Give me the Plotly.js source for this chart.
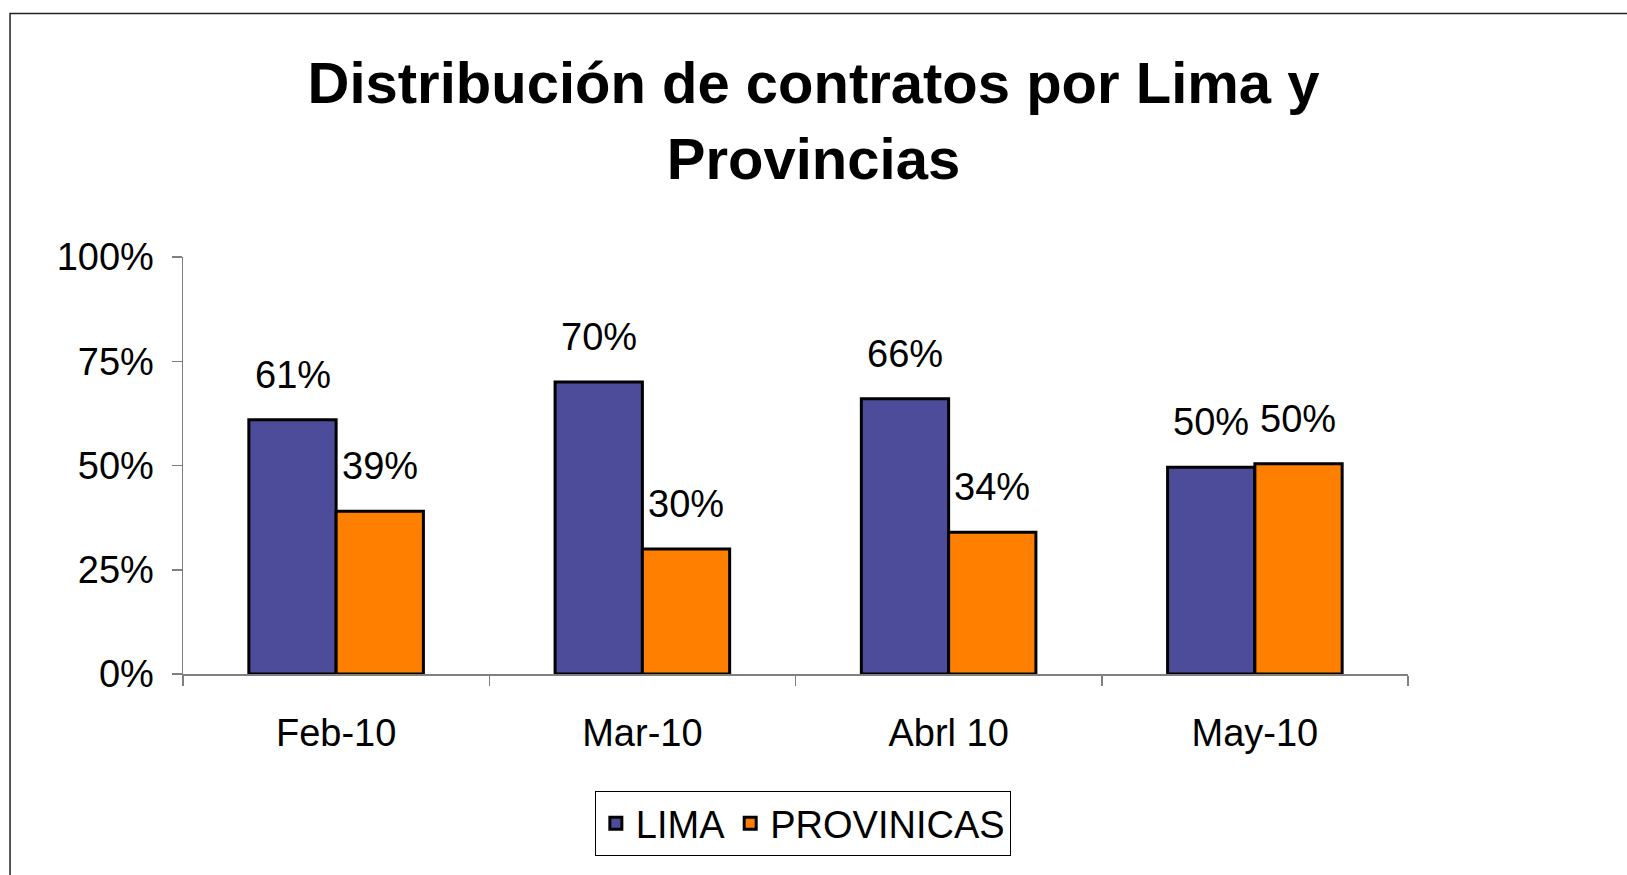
<!DOCTYPE html>
<html>
<head>
<meta charset="utf-8">
<script src="https://cdn.plot.ly/plotly-3.0.1.min.js"></script>
<style>
  html, body { margin: 0; padding: 0; background: #fff; }
  #chart { width: 1627px; height: 875px; }
</style>
</head>
<body>
<div id="chart"></div>
<script>
// Data
const meses = ["Feb-10", "Mar-10", "Abrl 10", "May-10"];
const lima = [0.61, 0.70, 0.66, 0.496];
const provincias = [0.39, 0.30, 0.34, 0.504];
const yTicks = [0, 0.25, 0.5, 0.75, 1];

const fontFam = "Liberation Sans, Arial, sans-serif";
const colLima = "#4c4c9a";
const colProv = "#ff8000";

const traceLima = {
  x: meses,
  y: lima,
  type: "bar",
  name: "LIMA",
  marker: { color: colLima, line: { color: "#000", width: 3 } },
  hoverinfo: "skip",
};

const traceProv = {
  x: meses,
  y: provincias,
  type: "bar",
  name: "PROVINICAS",
  marker: { color: colProv, line: { color: "#000", width: 3 } },
  hoverinfo: "skip",
};

// value labels above each bar
const halfBar = 43.6;
const labels = [];
meses.forEach((m, i) => {
  labels.push({
    x: m, y: lima[i], text: Math.round(lima[i] * 100) + "%",
    xshift: -halfBar, yshift: 22, yanchor: "bottom", showarrow: false,
    font: { family: fontFam, size: 38, color: "#000" },
  });
  labels.push({
    x: m, y: provincias[i], text: Math.round(provincias[i] * 100) + "%",
    xshift: halfBar, yshift: 22, yanchor: "bottom", showarrow: false,
    font: { family: fontFam, size: 38, color: "#000" },
  });
});

const layout = {
  width: 1627,
  height: 875,
  margin: { l: 183, r: 219, t: 257, b: 201 },
  paper_bgcolor: "#fff",
  plot_bgcolor: "#fff",
  font: { family: fontFam, size: 38, color: "#000" },
  title: {
    text: "<b>Distribución de contratos por Lima y<br>Provincias</b>",
    font: { family: fontFam, size: 58, color: "#000" },
    x: 0.5,
    xref: "container",
    y: 0.882,
    yref: "container",
    yanchor: "top",
  },
  barmode: "group",
  bargap: 0.43,
  bargroupgap: 0,
  showlegend: true,
  legend: {
    orientation: "h",
    x: 0.506,
    xanchor: "center",
    y: -0.2806,
    yanchor: "top",
    bordercolor: "#000",
    borderwidth: 1,
    bgcolor: "#fff",
    font: { family: fontFam, size: 38, color: "#000" },
  },
  xaxis: {
    type: "category",
    showline: true,
    linecolor: "#808080",
    linewidth: 1.5,
    ticks: "outside",
    tickson: "boundaries",
    ticklen: 10,
    tickcolor: "#808080",
    tickwidth: 1.5,
    ticklabelstandoff: 25,
    showgrid: false,
    zeroline: false,
    fixedrange: true,
  },
  yaxis: {
    range: [0, 1],
    tickvals: yTicks,
    tickformat: ".0%",
    showline: true,
    linecolor: "#808080",
    linewidth: 1.5,
    ticks: "outside",
    ticklen: 10,
    tickcolor: "#808080",
    tickwidth: 1.5,
    ticklabelstandoff: 10,
    showgrid: false,
    zeroline: false,
    fixedrange: true,
  },
  annotations: labels,
  shapes: [
    {
      type: "rect", xref: "paper", yref: "paper",
      x0: -0.1412, x1: 2, y0: -2, y1: 1.584,
      line: { color: "#222", width: 1.5 },
      fillcolor: "rgba(0,0,0,0)",
      layer: "below",
    },
  ],
};

Plotly.newPlot("chart", [traceLima, traceProv], layout, { displayModeBar: false, staticPlot: true });
</script>
</body>
</html>
